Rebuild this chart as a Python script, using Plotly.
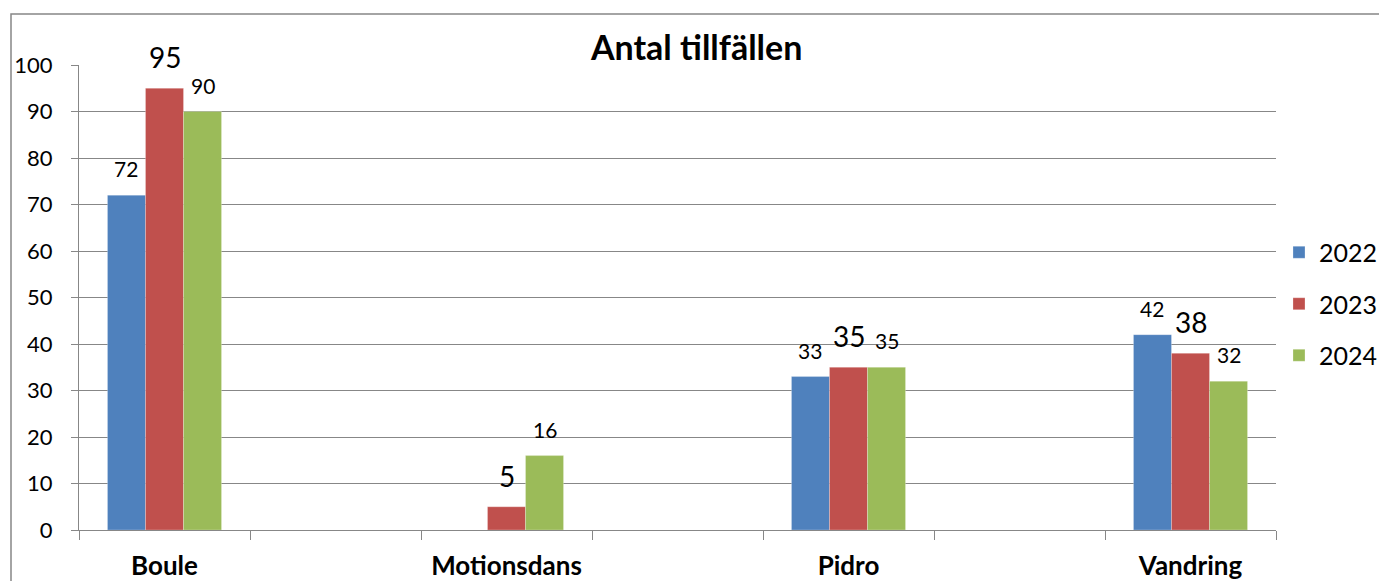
import plotly.graph_objects as go

# ---- data ----
categories = ["Boule", "Motionsdans", "Pidro", "Vandring"]
years = ["2022", "2023", "2024"]
values_2022 = [72, None, 33, 42]
values_2023 = [95, 5, 35, 38]
values_2024 = [90, 16, 35, 32]
y_ticks = [0, 10, 20, 30, 40, 50, 60, 70, 80, 90, 100]
title_text = "Antal tillfällen"

series = [values_2022, values_2023, values_2024]
colors = ["#4F81BD", "#C0504D", "#9BBB59"]
label_sizes = [21, 28, 21]

# category slots with empty spacer slots in between
slots = []
for i, c in enumerate(categories):
    slots.append(c)
    if i < len(categories) - 1:
        slots.append(" " * (i + 1))

W, H = 1379, 581
ml, mr, mt, mb = 79, 103, 65, 51
plot_w = W - ml - mr
plot_h = H - mt - mb
bargap = 0.333
slot_px = plot_w / len(slots)
bar_px = slot_px * (1 - bargap) / len(series)

FONT = "Lato, 'Open Sans', sans-serif"
GRID = "#878787"

fig = go.Figure()
annotations = []
for k, (yr, vals, col) in enumerate(zip(years, series, colors)):
    fig.add_trace(go.Bar(
        x=categories, y=vals, name=yr,
        marker=dict(color=col, line=dict(color="rgba(255,255,255,0.5)", width=0.5)),
        legendgroup=yr,
    ))
    shift = (k - (len(series) - 1) / 2) * bar_px
    for c, v in zip(categories, vals):
        if v is None:
            continue
        annotations.append(dict(
            x=c, y=v, xref="x", yref="y", text=str(v), showarrow=False,
            xanchor="center", yanchor="bottom", xshift=shift, yshift=12,
            font=dict(family=FONT, size=label_sizes[k], color="#000000"),
        ))

fig.update_layout(
    width=W, height=H,
    margin=dict(l=ml, r=mr, t=mt, b=mb, autoexpand=False),
    paper_bgcolor="white", plot_bgcolor="white",
    barmode="group", bargap=bargap, bargroupgap=0,
    font=dict(family=FONT, color="#000000"),
    title=dict(text="<b>" + title_text + "</b>", x=0.516, xref="paper", xanchor="center",
               y=1 - 48 / H, yref="container", yanchor="middle",
               font=dict(family=FONT, size=34, color="#000000")),
    xaxis=dict(type="category", categoryorder="array", categoryarray=slots,
               range=[-0.5, len(slots) - 0.5], tickson="boundaries",
               ticks="outside", ticklen=9, tickcolor=GRID, tickwidth=1,
               showline=True, linecolor=GRID, linewidth=1, showgrid=False,
               tickfont=dict(family=FONT, size=26, color="#000000", weight="bold"),
               ticklabelstandoff=13, fixedrange=True),
    yaxis=dict(range=[0, 100], tickvals=y_ticks, ticks="outside", ticklen=7,
               tickcolor=GRID, showline=True, linecolor=GRID, linewidth=1,
               showgrid=True, gridcolor=GRID, gridwidth=1, zeroline=False,
               tickfont=dict(family=FONT, size=22, color="#000000"),
               ticklabelstandoff=14, fixedrange=True),
    legend=dict(x=1.0025, xanchor="left", y=0.486, yanchor="middle",
                font=dict(family=FONT, size=25, color="#000000"),
                tracegroupgap=16, bgcolor="rgba(0,0,0,0)"),
    annotations=annotations,
    shapes=[dict(type="rect", xref="paper", yref="paper",
                 x0=(11 - ml) / plot_w, x1=1.5,
                 y0=-0.5, y1=(H - mb - 14) / plot_h,
                 line=dict(color=GRID, width=1.5), fillcolor="rgba(0,0,0,0)",
                 layer="below")],
)

fig.write_html(
    "out.html",
    config={"displayModeBar": False},
    post_script="document.body.style.margin='0';document.body.style.overflow='hidden';",
)
